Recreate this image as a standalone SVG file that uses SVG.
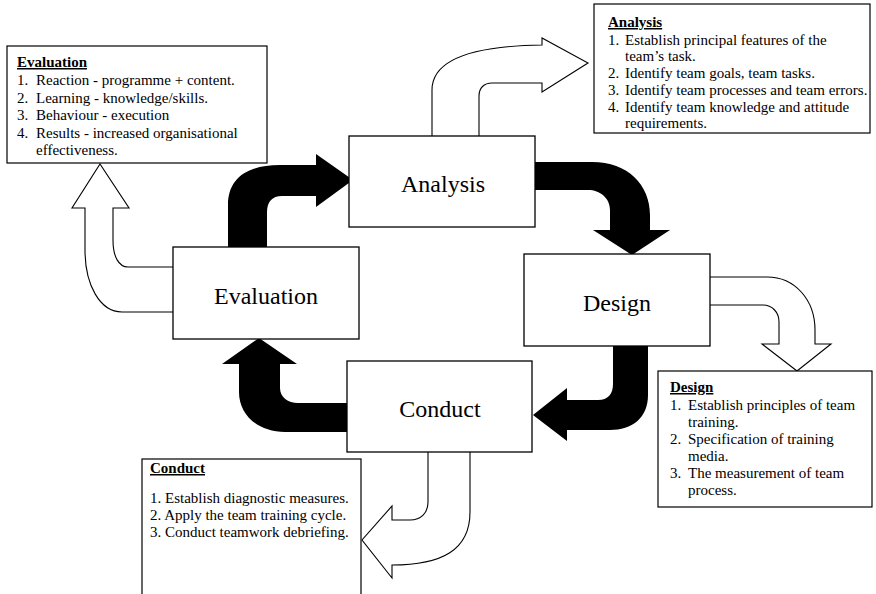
<svg xmlns="http://www.w3.org/2000/svg" width="876" height="594" viewBox="0 0 876 594">
  <style>
    .node { fill: #fff; stroke: #000; stroke-width: 1.3; }
    .note { fill: #fff; stroke: #000; stroke-width: 1.2; }
    .label { font-family: "Liberation Serif", "Times New Roman", serif; font-size: 24px; fill: #000; text-anchor: middle; }
    .txt { font-family: "Liberation Serif", "Times New Roman", serif; font-size: 15px; fill: #000; }
    .head { font-weight: bold; text-decoration: underline; }
    .cycle { fill: #000; stroke: none; }
    .out { fill: #fff; stroke: #000; stroke-width: 1.1; stroke-linejoin: miter; }
  </style>

  <rect width="876" height="594" fill="#fff"/>

  <!-- connectors: black cycle arrows and white outline arrows -->
  <g id="connectors">
    <!-- Evaluation -> Analysis -->
    <path class="cycle" d="M228,247 L228,205 C228,180 245,165 280,165 L316,165 L316,154 L353,180 L316,207 L316,196 L282,196 C272,196 267,202 267,212 L267,247 Z"/>
    <!-- Analysis -> Design -->
    <path class="cycle" d="M535,162 L592,162 C628,162 650,185 650,215 L650,230 L670,230 L632,255 L593,230 L610,230 L610,210 C610,198 600,190 588,190 L535,190 Z"/>
    <!-- Design -> Conduct -->
    <path class="cycle" d="M648,346 L648,395 C648,418 632,430 610,430 L567,430 L567,441 L533,415 L567,388 L567,400 L598,400 C608,400 613,394 613,384 L613,346 Z"/>
    <!-- Conduct -> Evaluation -->
    <path class="cycle" d="M347,432 L285,432 C258,432 239,415 239,392 L239,364 L222,364 L259,338 L297,364 L280,364 L280,388 C280,397 288,403 298,403 L347,403 Z"/>

    <!-- Analysis node -> Analysis notes -->
    <path class="out" d="M432,136 L432,90 C432,60 470,46 542,45 L542,38 L588,63 L542,92 L542,83 L492,83 C484,83 479,88 479,96 L479,136"/>
    <!-- Evaluation node -> Evaluation notes -->
    <path class="out" d="M173,267 L128,267 C119,267 113,257 113,240 L113,208 L129,208 L100,164 L72,208 L85,208 L85,250 C85,285 100,312 122,312 L173,312"/>
    <!-- Design node -> Design notes -->
    <path class="out" d="M710,277 L767,277 C795,277 815,300 815,330 L815,344 L831,344 L797,371 L762,344 L779,344 L779,322 C779,312 772,305 763,305 L710,305"/>
    <!-- Conduct node -> Conduct notes -->
    <path class="out" d="M470,452 L470,512 C470,550 442,565 392,565 L392,578 L362,540 L392,506 L392,520 L410,520 C421,520 428,513 428,502 L428,452"/>
  </g>

  <!-- cycle stages -->
  <g id="node-analysis">
    <rect class="node" x="349" y="136" width="186" height="91"/>
    <text class="label" x="443" y="192">Analysis</text>
  </g>
  <g id="node-design">
    <rect class="node" x="524" y="254" width="186" height="92"/>
    <text class="label" x="617" y="311">Design</text>
  </g>
  <g id="node-conduct">
    <rect class="node" x="347" y="361" width="185" height="91"/>
    <text class="label" x="440" y="417">Conduct</text>
  </g>
  <g id="node-evaluation">
    <rect class="node" x="173" y="247" width="186" height="92"/>
    <text class="label" x="266" y="304">Evaluation</text>
  </g>

  <!-- stage notes -->
  <g id="notes-evaluation">
    <rect class="note" x="7" y="46" width="260" height="117"/>
    <text class="txt head" x="17" y="67">Evaluation</text>
    <text class="txt" x="17" y="85">1.</text><text class="txt" x="36" y="85">Reaction - programme + content.</text>
    <text class="txt" x="17" y="103">2.</text><text class="txt" x="36" y="103">Learning - knowledge/skills.</text>
    <text class="txt" x="17" y="120">3.</text><text class="txt" x="36" y="120">Behaviour - execution</text>
    <text class="txt" x="17" y="138">4.</text><text class="txt" x="36" y="138">Results - increased organisational</text>
    <text class="txt" x="36" y="155">effectiveness.</text>
  </g>

  <g id="notes-analysis">
    <rect class="note" x="594" y="4" width="276" height="129"/>
    <text class="txt head" x="608" y="27">Analysis</text>
    <text class="txt" x="608" y="45">1.</text><text class="txt" x="625" y="45">Establish principal features of the</text>
    <text class="txt" x="625" y="61">team’s task.</text>
    <text class="txt" x="608" y="78">2.</text><text class="txt" x="625" y="78">Identify team goals, team tasks.</text>
    <text class="txt" x="608" y="95">3.</text><text class="txt" x="625" y="95">Identify team processes and team errors.</text>
    <text class="txt" x="608" y="112">4.</text><text class="txt" x="625" y="112">Identify team knowledge and attitude</text>
    <text class="txt" x="625" y="128">requirements.</text>
  </g>

  <g id="notes-design">
    <rect class="note" x="658" y="371" width="214" height="136"/>
    <text class="txt head" x="670" y="392">Design</text>
    <text class="txt" x="670" y="410">1.</text><text class="txt" x="688" y="410">Establish principles of team</text>
    <text class="txt" x="688" y="427">training.</text>
    <text class="txt" x="670" y="444">2.</text><text class="txt" x="688" y="444">Specification of training</text>
    <text class="txt" x="688" y="461">media.</text>
    <text class="txt" x="670" y="478">3.</text><text class="txt" x="688" y="478">The measurement of team</text>
    <text class="txt" x="688" y="495">process.</text>
  </g>

  <g id="notes-conduct">
    <rect class="note" x="142" y="459" width="219" height="145"/>
    <text class="txt head" x="150" y="473">Conduct</text>
    <text class="txt" x="150" y="503">1. Establish diagnostic measures.</text>
    <text class="txt" x="150" y="520">2. Apply the team training cycle.</text>
    <text class="txt" x="150" y="537">3. Conduct teamwork debriefing.</text>
  </g>
</svg>
